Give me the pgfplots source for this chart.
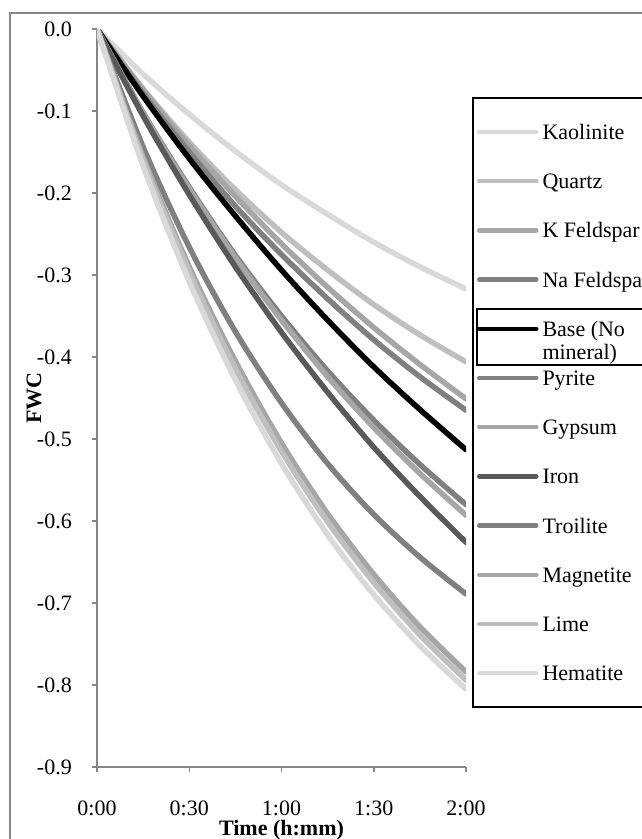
\documentclass[border=0pt]{standalone}
\usepackage{fontspec}
\setmainfont{Liberation Serif}
\usepackage{pgfplots}
\pgfplotsset{compat=1.18}
\definecolor{axgray}{RGB}{134,134,134}
\definecolor{gA}{RGB}{217,217,217}
\definecolor{gB}{RGB}{191,191,191}
\definecolor{gC}{RGB}{166,166,166}
\definecolor{gD}{RGB}{128,128,128}
\definecolor{gE}{RGB}{89,89,89}
\newcommand{\bigfont}{\fontsize{22}{23}\selectfont}
\begin{document}
\bigfont
\begin{tikzpicture}[x=1pt,y=1pt]
\useasboundingbox (0pt,0pt) rectangle (642pt,839pt);
\draw[axgray, line width=1.2pt] (10pt,-10pt) rectangle (700pt,826pt);
\begin{axis}[
  at={(97pt,72pt)}, anchor=south west,
  scale only axis, width=369pt, height=738pt,
  xmin=0, xmax=120, ymin=-0.9, ymax=0,
  axis x line*=bottom, axis y line*=left,
  axis line style={axgray, line width=1.5pt},
  tick style={axgray, line width=1.5pt},
  tick align=outside, major tick length=5pt,
  xtick={0,30,60,90,120},
  xticklabels={0:00,0:30,1:00,1:30,2:00},
  ytick={-0.9,-0.8,-0.7,-0.6,-0.5,-0.4,-0.3,-0.2,-0.1,0},
  yticklabels={-0.9,-0.8,-0.7,-0.6,-0.5,-0.4,-0.3,-0.2,-0.1,0.0},
  tick label style={font=\bigfont},
  xticklabel style={anchor=center, inner sep=0pt, yshift=-36pt},
  yticklabel style={anchor=east, inner sep=0pt, xshift=-20pt},
  xlabel={Time (h:mm)}, ylabel={FWC},
  label style={font=\bigfont\bfseries},
  xlabel style={at={(axis description cs:0.5,-0.0855)}, anchor=center},
  ylabel style={at={(axis description cs:-0.171,0.5)}, anchor=center},
  legend style={at={(axis description cs:1.0163,0.9079)}, anchor=north west,
    draw=black, line width=2pt, fill=white, inner xsep=4pt, inner ysep=18.5pt,
    row sep=18.2pt, column sep=4pt, font=\bigfont,
    nodes={inner sep=0pt, text height=23pt, text depth=8pt}},
  legend cell align=left,
  legend image code/.code={\draw[#1, line width=4.5pt] (0pt,0pt) -- (57pt,0pt);},
  every axis plot/.append style={line width=5.5pt, line cap=round, line join=round, smooth},
]
\addplot[gA] coordinates {(0,0) (15,-0.055) (30,-0.104) (45,-0.149) (60,-0.190) (75,-0.226) (90,-0.260) (105,-0.290) (120,-0.317)};
\addlegendentry{Kaolinite}
\addplot[gB] coordinates {(0,0) (15,-0.073) (30,-0.138) (45,-0.196) (60,-0.248) (75,-0.294) (90,-0.336) (105,-0.373) (120,-0.406)};
\addlegendentry{Quartz}
\addplot[gC] coordinates {(0,0) (15,-0.074) (30,-0.142) (45,-0.204) (60,-0.262) (75,-0.315) (90,-0.364) (105,-0.409) (120,-0.451)};
\addlegendentry{K Feldspar}
\addplot[gD] coordinates {(0,0) (15,-0.079) (30,-0.150) (45,-0.216) (60,-0.275) (75,-0.329) (90,-0.379) (105,-0.424) (120,-0.465)};
\addlegendentry{Na Feldspar}
\addplot[black] coordinates {(0,0) (15,-0.082) (30,-0.158) (45,-0.228) (60,-0.294) (75,-0.355) (90,-0.412) (105,-0.464) (120,-0.513)};
\addlegendentry{\smash{\begin{tabular}[t]{@{}l@{}}Base (No\\mineral)\end{tabular}}}
\addplot[gD] coordinates {(0,0) (15,-0.102) (30,-0.193) (45,-0.276) (60,-0.350) (75,-0.417) (90,-0.477) (105,-0.531) (120,-0.580)};
\addlegendentry{Pyrite}
\addplot[gC] coordinates {(0,0) (15,-0.103) (30,-0.195) (45,-0.279) (60,-0.355) (75,-0.424) (90,-0.486) (105,-0.542) (120,-0.593)};
\addlegendentry{Gypsum}
\addplot[gE] coordinates {(0,0) (15,-0.106) (30,-0.202) (45,-0.290) (60,-0.370) (75,-0.443) (90,-0.510) (105,-0.570) (120,-0.626)};
\addlegendentry{Iron}
\addplot[gD] coordinates {(0,0) (15,-0.144) (30,-0.266) (45,-0.369) (60,-0.456) (75,-0.530) (90,-0.592) (105,-0.644) (120,-0.689)};
\addlegendentry{Troilite}
\addplot[gC] coordinates {(0,0) (15,-0.156) (30,-0.290) (45,-0.405) (60,-0.505) (75,-0.591) (90,-0.665) (105,-0.729) (120,-0.784)};
\addlegendentry{Magnetite}
\addplot[gB] coordinates {(0,0) (15,-0.160) (30,-0.296) (45,-0.414) (60,-0.515) (75,-0.601) (90,-0.675) (105,-0.739) (120,-0.794)};
\addlegendentry{Lime}
\addplot[gA] coordinates {(0,0) (15,-0.167) (30,-0.308) (45,-0.428) (60,-0.530) (75,-0.617) (90,-0.690) (105,-0.752) (120,-0.805)};
\addlegendentry{Hematite}
\end{axis}
\draw[black, line width=2pt] (477pt,474pt) rectangle (700pt,530pt);
\end{tikzpicture}
\end{document}
